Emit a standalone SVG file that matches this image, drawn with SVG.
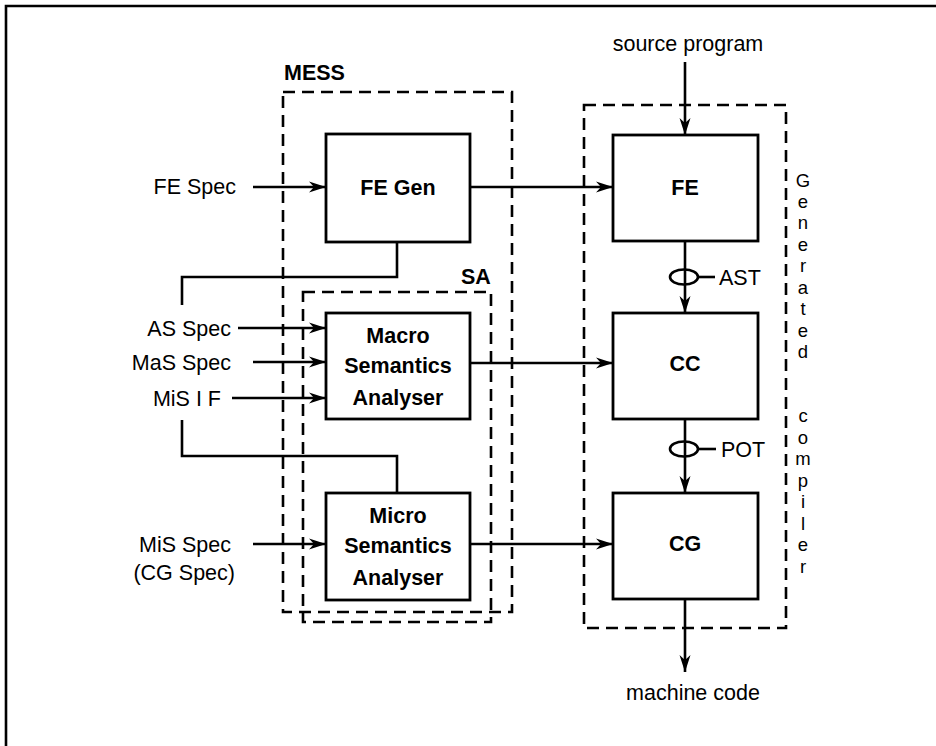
<svg xmlns="http://www.w3.org/2000/svg" width="936" height="746" viewBox="0 0 936 746">
<style>
.box{fill:none;stroke:#000;stroke-width:2.8}
.grp{fill:none;stroke:#000;stroke-width:2.6;stroke-dasharray:12 7}
.ln{fill:none;stroke:#000;stroke-width:2.6}
.arr{marker-end:url(#ah)}
text{font-family:"Liberation Sans",Arial,sans-serif;font-size:21.5px;fill:#000}
.b{font-weight:bold;font-size:21.5px}
.m{text-anchor:middle}
.e{text-anchor:end}
.v{font-size:18.5px;text-anchor:middle}
</style>
<defs>
<marker id="ah" markerUnits="userSpaceOnUse" markerWidth="18" markerHeight="12" refX="17" refY="6" orient="auto">
<path d="M0,0.5 L17,6 L0,11.5 L5,6 Z" fill="#000"/>
</marker>
</defs>
<rect width="936" height="746" fill="#fff"/>
<g id="frame"><path class="ln" d="M6,746 V6 H936" stroke-width="3"/></g>

<g id="mess">
<rect class="grp" x="283" y="92" width="229" height="520"/>
<text class="b" x="284" y="80">MESS</text>
</g>
<g id="sa">
<rect class="grp" x="303" y="292" width="188" height="330"/>
<text class="b" x="461" y="284">SA</text>
</g>
<g id="generated">
<rect class="grp" x="584" y="105" width="202" height="523"/>
<text class="v" x="803" y="187">G</text>
<text class="v" x="803" y="208">e</text>
<text class="v" x="803" y="229">n</text>
<text class="v" x="803" y="251">e</text>
<text class="v" x="803" y="272">r</text>
<text class="v" x="803" y="294">a</text>
<text class="v" x="803" y="315">t</text>
<text class="v" x="803" y="337">e</text>
<text class="v" x="803" y="358">d</text>
<text class="v" x="803" y="422">c</text>
<text class="v" x="803" y="444">o</text>
<text class="v" x="803" y="465">m</text>
<text class="v" x="803" y="487">p</text>
<text class="v" x="803" y="508">i</text>
<text class="v" x="803" y="530">l</text>
<text class="v" x="803" y="551">e</text>
<text class="v" x="803" y="573">r</text>
</g>

<g id="fegen">
<rect class="box" x="326" y="134" width="144" height="108"/>
<text class="b m" x="398" y="195">FE Gen</text>
</g>
<g id="macro">
<rect class="box" x="326" y="313" width="144" height="106"/>
<text class="b m" x="398" y="343">Macro</text>
<text class="b m" x="398" y="373">Semantics</text>
<text class="b m" x="398" y="405">Analyser</text>
</g>
<g id="micro">
<rect class="box" x="326" y="493" width="144" height="107"/>
<text class="b m" x="398" y="523">Micro</text>
<text class="b m" x="398" y="553">Semantics</text>
<text class="b m" x="398" y="585">Analyser</text>
</g>
<g id="fe">
<rect class="box" x="613" y="135" width="145" height="106"/>
<text class="b m" x="685" y="195">FE</text>
</g>
<g id="cc">
<rect class="box" x="613" y="313" width="145" height="106"/>
<text class="b m" x="685" y="371">CC</text>
</g>
<g id="cg">
<rect class="box" x="613" y="493" width="145" height="106"/>
<text class="b m" x="685" y="551">CG</text>
</g>

<g id="labels">
<text class="e" x="236" y="194">FE Spec</text>
<text class="e" x="231" y="336">AS Spec</text>
<text class="e" x="231" y="370">MaS Spec</text>
<text class="e" x="221" y="406">MiS I F</text>
<text class="e" x="231" y="552">MiS Spec</text>
<text class="e" x="235" y="580">(CG Spec)</text>
<text class="m" x="688" y="51">source program</text>
<text class="m" x="693" y="700">machine code</text>
<text x="719" y="285">AST</text>
<text x="721" y="457">POT</text>
</g>

<g id="connectors">
<path class="ln arr" d="M253,187 H326"/>
<path class="ln arr" d="M470,187 H613"/>
<path class="ln" d="M397,242 V277 H182 V305"/>
<path class="ln arr" d="M238,328 H326"/>
<path class="ln arr" d="M253,362 H326"/>
<path class="ln arr" d="M232,398 H326"/>
<path class="ln" d="M182,420 V456 H397 V493"/>
<path class="ln arr" d="M253,544 H326"/>
<path class="ln arr" d="M470,363 H613"/>
<path class="ln arr" d="M470,544 H613"/>
<path class="ln arr" d="M685,62 V135"/>
<path class="ln arr" d="M685,241 V313"/>
<path class="ln arr" d="M685,419 V493"/>
<path class="ln arr" d="M685,599 V672"/>
<ellipse class="ln" cx="684" cy="277" rx="14" ry="7.5"/>
<path class="ln" d="M698,277 H715"/>
<ellipse class="ln" cx="684" cy="449" rx="14" ry="7.5"/>
<path class="ln" d="M698,449 H716"/>
</g>
</svg>
